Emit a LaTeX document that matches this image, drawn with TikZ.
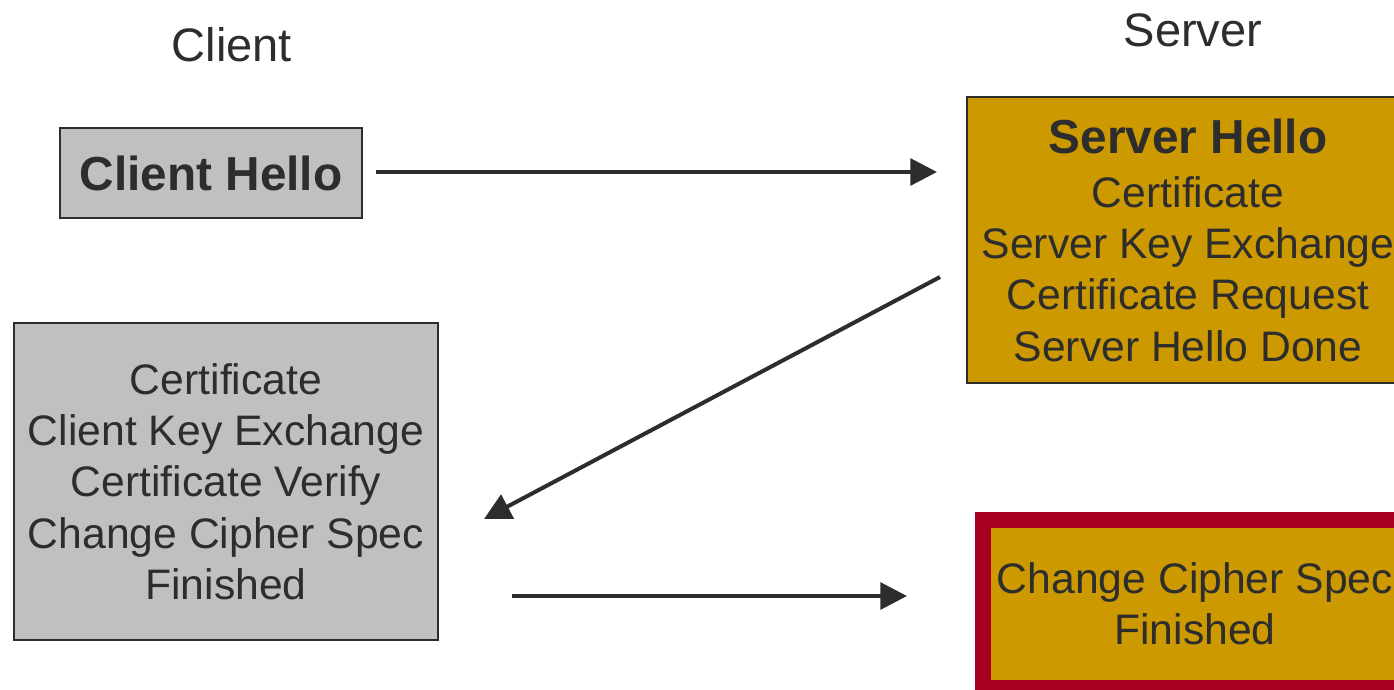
\documentclass[tikz,border=0pt]{standalone}
\usepackage{fontspec}
\setmainfont{Liberation Sans}
\usetikzlibrary{arrows.meta}
\definecolor{inkdark}{HTML}{2D2D2D}
\definecolor{boxgray}{HTML}{C0C0C0}
\definecolor{gold}{HTML}{CC9900}
\definecolor{crimson}{HTML}{A50021}
\begin{document}
\begin{tikzpicture}[x=0.75pt,y=-0.75pt,
  msgbox/.style={rectangle,draw=inkdark,line width=1.9pt,inner sep=0pt,
    align=center,text=inkdark,font=\fontsize{32}{38.5}\selectfont},
  clientbox/.style={msgbox,fill=boxgray},
  serverbox/.style={msgbox,fill=gold},
  finalbox/.style={msgbox,fill=gold,draw=crimson,line width=12pt},
  sidelabel/.style={text=inkdark,font=\fontsize{35.25}{40}\selectfont},
  flow/.style={draw=inkdark,line width=3pt,-{Triangle[length=20pt,width=20pt]}}]
\useasboundingbox (0,0) rectangle (1394,689);
\clip (0,0) rectangle (1394,689);
\fill[white] (0,0) rectangle (1394,689);

% column headings
\node[sidelabel] (clientlbl) at (232,45) {Client};
\node[sidelabel] (serverlbl) at (1193,30) {Server};

% handshake messages
\node[clientbox,minimum width=226.5pt,minimum height=67.5pt] (hello) at (211,173)
  {\fontsize{35.8}{40}\selectfont\bfseries Client Hello};
\node[serverbox,minimum width=331.5pt,minimum height=214.5pt] (srv) at (1188,240)
  {{\fontsize{35.8}{40}\selectfont\bfseries Server Hello}\\[2pt]
   Certificate\\Server Key Exchange\\Certificate Request\\Server Hello Done};
\node[clientbox,minimum width=318pt,minimum height=237.75pt] (cli) at (226,481.5)
  {Certificate\\Client Key Exchange\\Certificate Verify\\Change Cipher Spec\\Finished};
\node[finalbox,minimum width=318pt,minimum height=126pt] (fin) at (1195,604)
  {Change Cipher Spec\\Finished};

% message flow
\coordinate (a1s) at (376,172);
\coordinate (a1e) at (937,172);
\coordinate (a2s) at (940,277);
\coordinate (a2e) at (484,519);
\coordinate (a3s) at (512,596);
\coordinate (a3e) at (907,596);
\draw[flow] (a1s) -- (a1e);
\draw[flow] (a2s) -- (a2e);
\draw[flow] (a3s) -- (a3e);
\end{tikzpicture}
\end{document}
